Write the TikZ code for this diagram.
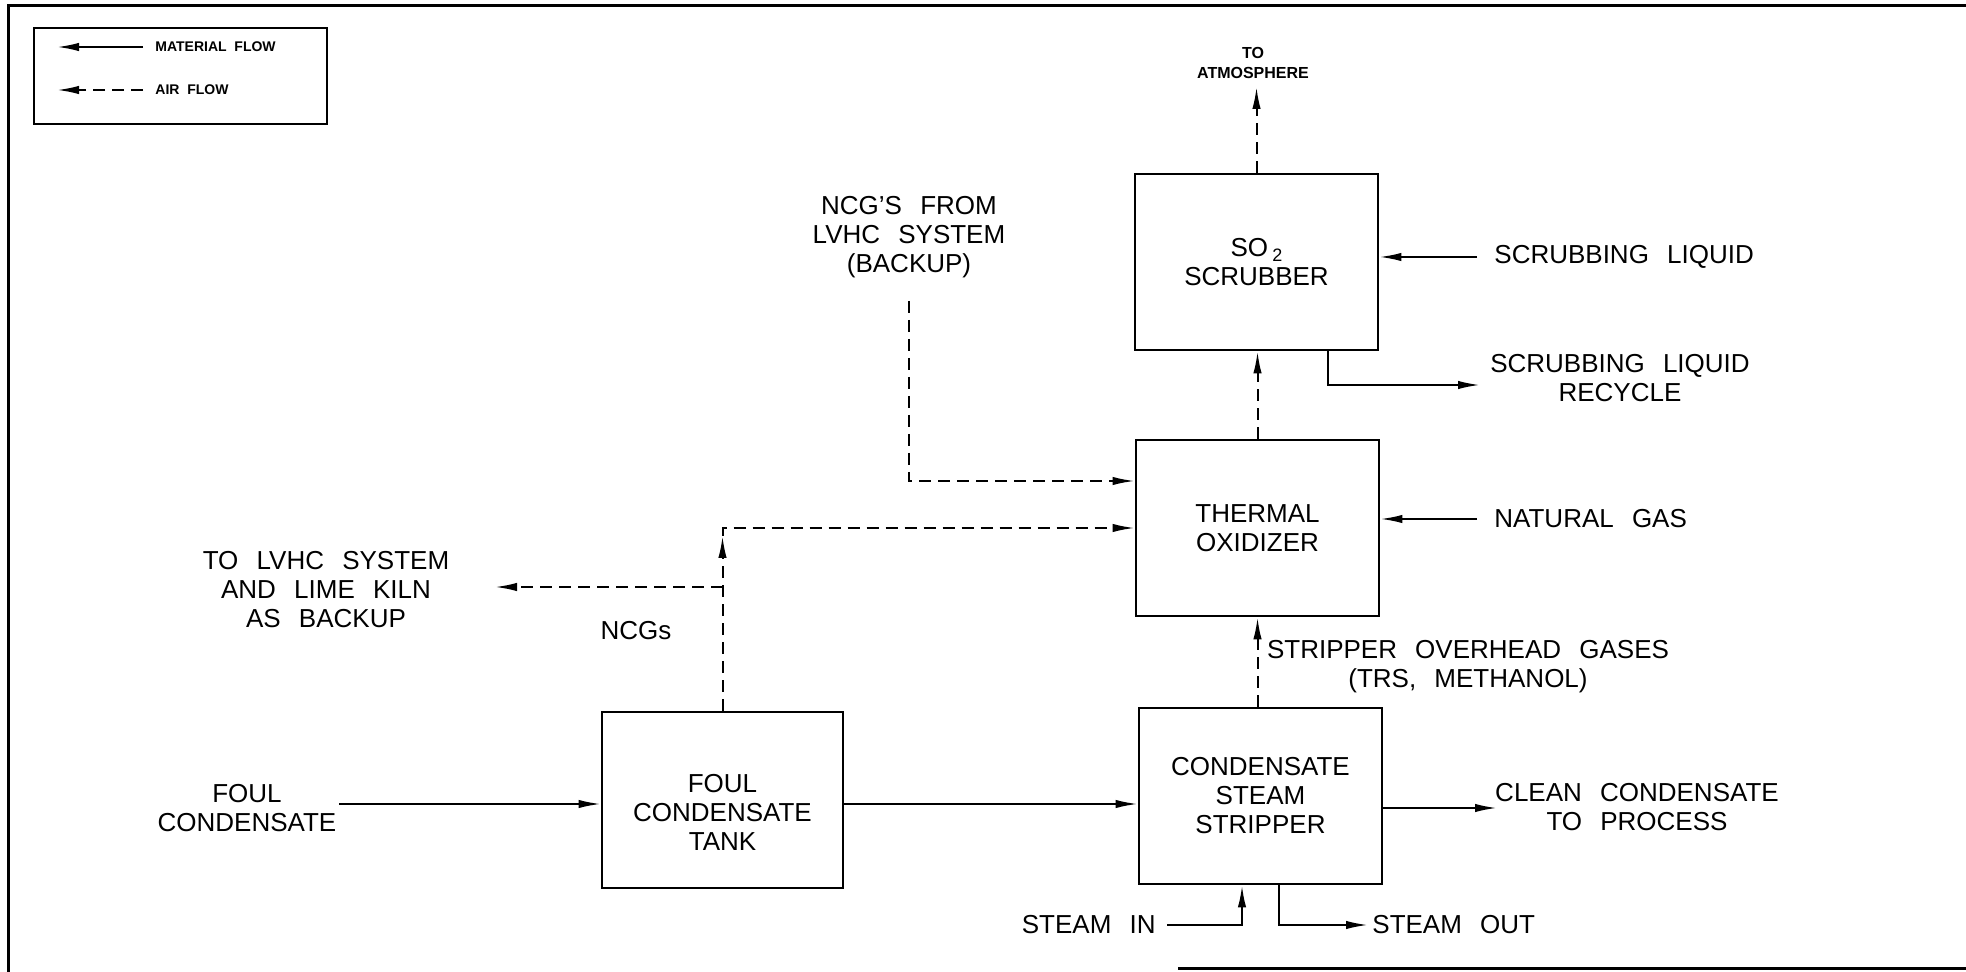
\documentclass[tikz,border=0pt]{standalone}
\usepackage{fontspec}
\setmainfont{Liberation Sans}
\usetikzlibrary{arrows.meta,calc}
\newcommand\lblfont{\fontsize{13}{14.5}\selectfont\spaceskip=0.7em plus 0.1em\relax}
\newcommand\lgdfont{\fontsize{7}{8}\selectfont\bfseries}
\newcommand\atmfont{\fontsize{8}{10}\selectfont\bfseries}
\begin{document}
\begin{tikzpicture}[x=0.5pt,y=-0.5pt,
  every node/.style={inner sep=0pt, font=\lblfont, align=center},
  box/.style={draw, line width=1.4pt, minimum width=121.5pt, minimum height=88pt},
  lgdbox/.style={draw, line width=1.4pt, minimum width=146.5pt, minimum height=48pt},
  frameline/.style={line width=1.5pt},
  mat/.style={draw, line width=1pt, -{Latex[length=11pt,width=4.2pt]}},
  air/.style={mat, dash pattern=on 6pt off 3.5pt},
]
\useasboundingbox (0,0) rectangle (1966,972);
\fill[white] (0,0) rectangle (1966,972);

% outer frame
\draw[frameline] (1966,6) -- (8,6) -- (8,972);
\draw[frameline] (1178,968) -- (1966,968);

% legend
\node[lgdbox] (legend) at (180.5,76) {};
\coordinate (mfa) at (57,47);
\coordinate (mfb) at (143,47);
\coordinate (afa) at (57,90);
\coordinate (afb) at (143,90);
\draw[mat] (mfb) -- (mfa);
\draw[air] (afb) -- (afa);
\node[font=\lgdfont, anchor=west] (mflbl) at (155,47) {MATERIAL\ \ FLOW};
\node[font=\lgdfont, anchor=west] (aflbl) at (155,90) {AIR\ \ FLOW};

% boxes
\node[box] (scrub) at (1256.5,262) {SO\,\raisebox{-0.35ex}{\fontsize{9}{9}\selectfont 2}\\SCRUBBER};
\node[box] (ox) at (1257.5,528) {THERMAL\\OXIDIZER};
\node[box] (strip) at (1260.5,796) {CONDENSATE\\STEAM\\STRIPPER};
\node[box, minimum width=120.5pt, label={[yshift=-6pt]center:FOUL\\CONDENSATE\\TANK}] (tank) at (722.5,800) {};

% labels
\node[font=\atmfont] (atm) at (1253,63) {TO\\ATMOSPHERE};
\node[anchor=west] (sl) at (1494,257) {SCRUBBING LIQUID};
\node (rec) at (1620,378) {SCRUBBING LIQUID\\RECYCLE};
\node[anchor=west] (ng) at (1494,519) {NATURAL GAS};
\node (ncg) at (909,237) {NCG'S FROM\\LVHC SYSTEM\\(BACKUP)};
\node (lvhc) at (326,590) {TO LVHC SYSTEM\\AND LIME KILN\\AS BACKUP};
\node (ncgs) at (636,631) {NCGs};
\node (fc) at (247,808) {FOUL\\CONDENSATE};
\node (sog) at (1468,667) {STRIPPER OVERHEAD GASES\\(TRS, METHANOL)};
\node (cc) at (1637,807) {CLEAN CONDENSATE\\TO PROCESS};
\node[anchor=east] (si) at (1156,925) {STEAM IN};
\node[anchor=west] (so) at (1372,925) {STEAM OUT};

% free-end coordinates
\coordinate (atmtip) at (1256,87);
\coordinate (sltail) at (1477,257);
\coordinate (rectip) at (1480,385);
\coordinate (ngtail) at (1477,519);
\coordinate (ncgtop) at (909,301);
\coordinate (lvhctip) at (495,587);
\coordinate (fctail) at (339,804);
\coordinate (cleantip) at (1497,808);
\coordinate (sitail) at (1167,925);
\coordinate (sotip) at (1368,925);

% connectors
\draw[air] (scrub.north) -- (scrub.north |- atmtip);
\draw[air] (ox.north) -- (ox.north |- scrub.south);
\draw[mat] (sltail) -- (sltail -| scrub.east);
\draw[mat] ([xshift=-25.5pt]scrub.south east) |- (rectip);
\draw[mat] (ngtail) -- (ngtail -| ox.east);
\draw[air] (ncgtop) |- ([yshift=23.5pt]ox.west);
\coordinate (corner) at (tank.north |- ox.west);
\coordinate (branch) at (tank.north |- lvhctip);
\draw[air] (tank.north) -- ([yshift=-4pt]corner);
\draw[air] ([yshift=-4pt]corner) -- (corner) -- (ox.west);
\draw[air] (branch) -- (lvhctip);
\draw[mat] (fctail) -- (fctail -| tank.west);
\draw[mat] ([yshift=-2pt]tank.east) -- ([yshift=-2pt]tank.east -| strip.west);
\draw[air] (ox.south |- strip.north) -- (ox.south);
\draw[mat] (strip.east |- cleantip) -- (cleantip);
\draw[mat] (sitail) -| ([xshift=-9.25pt]strip.south);
\draw[mat] ([xshift=9.25pt]strip.south) |- (sotip);
\end{tikzpicture}
\end{document}
